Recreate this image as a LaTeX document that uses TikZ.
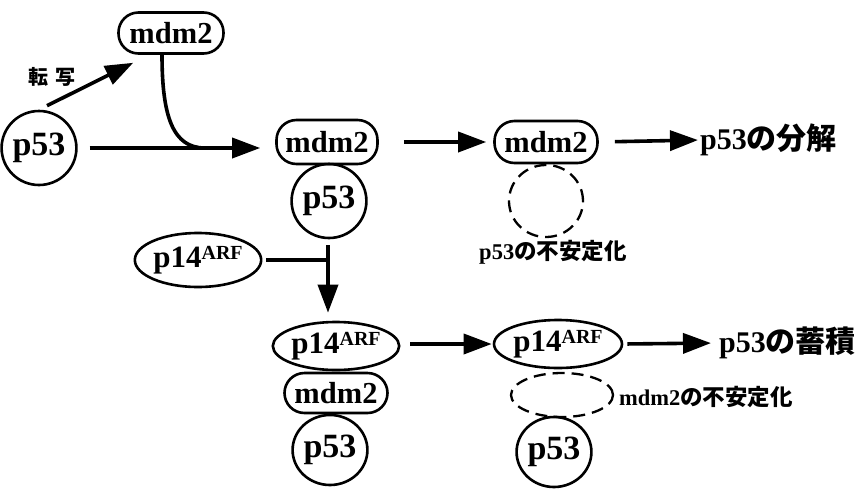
\documentclass[tikz,border=0pt]{standalone}
\usepackage{fontspec}
\setmainfont{Liberation Serif}
\newfontfamily\jpfont{Noto Sans CJK JP}
\usetikzlibrary{shapes.geometric,arrows.meta,calc}

\newcommand{\arfname}[1]{{\fontsize{31}{31}\selectfont p14}\raisebox{8pt}{\fontsize{#1}{#1}\selectfont ARF}}

\begin{document}
\begin{tikzpicture}[x=1pt,y=-1pt,
  oval/.style={ellipse,draw,line width=2.6pt,inner sep=0pt,
    font=\bfseries\fontsize{34}{34}\selectfont},
  pill/.style={rectangle,rounded corners=20pt,draw,line width=2.6pt,inner sep=0pt,
    font=\bfseries\fontsize{30.5}{30.5}\selectfont},
  gone/.style={ellipse,draw,line width=2.3pt,inner sep=0pt,dash pattern=on 12pt off 7pt},
  arr/.style={line width=3.6pt,-{Triangle[length=28pt,width=20pt]}},
  bar/.style={line width=3.6pt},
  big/.style={inner sep=0pt,font=\bfseries\fontsize{30}{30}\selectfont},
  small/.style={inner sep=0pt,font=\bfseries\fontsize{22.5}{22.5}\selectfont},
]
\useasboundingbox (0,0) rectangle (860,491);

% upper row: transcription and binding
\node[oval,minimum width=72pt,minimum height=74pt] (p53a) at (39,148) {p53};
\node[pill,minimum width=105pt,minimum height=41pt] (mdm2a) at (171,33) {mdm2};
\node[small,font=\jpfont\bfseries\fontsize{20}{20}\selectfont] (trans) at (52,77) {転\hspace{7pt}写};

\node[pill,minimum width=101pt,minimum height=44pt] (mdm2b) at (327,142) {mdm2};
\node[oval,minimum width=66pt,minimum height=74pt] (p53b) at (329,201) {p53};

\node[pill,minimum width=103pt,minimum height=42pt] (mdm2c) at (546,142) {mdm2};
\node[gone,minimum width=74pt,minimum height=72pt] (p53gone) at (546,201) {};
\node[small] (unstab1) at (553,252) {p53\jpfont の不安定化};
\node[big,anchor=west] (deg) at (700,140) {p53\jpfont の分解};

\draw[arr] ($(p53a.north)+(8,-4)$) -- ($(mdm2a.south west)+(16,8)$);
\coordinate (join) at (205,148);
\draw[arr,shorten <=12pt,shorten >=15pt] (p53a.east) -- (p53a.east -| mdm2b.west);
\draw[bar] ($(mdm2a.south)+(-9,0)$) .. controls +(0,62) and +(-32,0) .. (join);
\draw[arr,shorten <=25pt,shorten >=7pt] (mdm2b.east) -- (mdm2c.west);
\draw[arr,shorten <=16pt,shorten >=2pt] (mdm2c.east) -- (deg.west);

% lower row: p14ARF sequesters mdm2
\node[oval,minimum width=120pt,minimum height=54pt] (p14a) at (198,260) {\arfname{20}};
\node[oval,minimum width=122pt,minimum height=48pt] (p14b) at (336,346) {\arfname{20}};
\node[pill,minimum width=103pt,minimum height=40pt] (mdm2d) at (336,393) {mdm2};
\node[oval,minimum width=66pt,minimum height=70pt] (p53d) at (330,450) {p53};

\node[oval,minimum width=128pt,minimum height=48pt] (p14c) at (558,344) {\arfname{20}};
\node[gone,minimum width=102pt,minimum height=44pt] (mdm2gone) at (562,395) {};
\node[oval,minimum width=60pt,minimum height=70pt] (p53e) at (554,452) {p53};
\node[small,anchor=west] (unstab2) at (619,397) {mdm2\jpfont の不安定化};
\node[big,anchor=west] (accum) at (719,343) {p53\jpfont の蓄積};

\draw[arr,shorten <=6pt,shorten >=8pt] ($(p53b.south)+(-1,0)$) -- ($(p53b.south |- p14b.north)+(-1,0)$);
\draw[bar,shorten <=4pt] (p14a.east) -- ($(p14a.east -| p53b.south)+(-1,0)$);
\draw[arr,shorten <=10pt,shorten >=1pt] (p14b.east |- p14c.west) -- (p14c.west);
\draw[arr,shorten <=4pt,shorten >=8pt] (p14c.east) -- (accum.west);
\end{tikzpicture}
\end{document}
